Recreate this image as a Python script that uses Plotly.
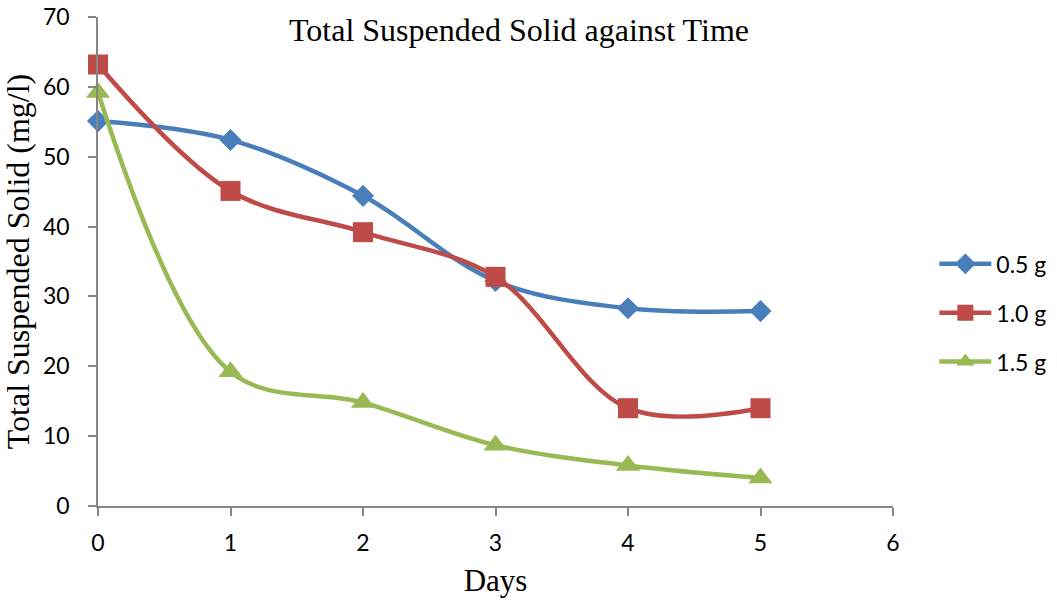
import plotly.graph_objects as go

days = [0, 1, 2, 3, 4, 5]
s05 = [55.1, 52.4, 44.4, 32.2, 28.3, 27.9]
s10 = [63.2, 45.1, 39.2, 32.8, 14.0, 14.0]
s15 = [59.2, 19.2, 14.8, 8.7, 5.8, 4.0]
names = ["0.5 g", "1.0 g", "1.5 g"]
colors = ["#4A7EBB", "#BE4B48", "#98B954"]
symbols = ["diamond", "square", "triangle-up"]
sizes = [17, 20, 21]

serif = "Liberation Serif, Times New Roman, serif"
sans = "Lato, Liberation Sans, sans-serif"

fig = go.Figure()
for i, (ys, nm) in enumerate(zip([s05, s10, s15], names)):
    fig.add_trace(go.Scatter(
        x=days, y=ys, name=nm, mode="lines+markers",
        line=dict(color=colors[i], width=4.5, shape="spline", smoothing=1.0),
        marker=dict(symbol=symbols[i], size=sizes[i], color=colors[i]),
        cliponaxis=False, legendgroup=nm,
    ))

axis_font = dict(family=sans, size=23, color="#000")
fig.update_layout(
    width=1057, height=603,
    margin=dict(l=98, r=164, t=17, b=97, autoexpand=False),
    plot_bgcolor="white", paper_bgcolor="white",
    showlegend=True,
    legend=dict(x=1.052, y=0.395, xanchor="left", yanchor="middle",
                font=dict(family=sans, size=23, color="#000"),
                tracegroupgap=16, itemwidth=52, bgcolor="rgba(0,0,0,0)"),
    xaxis=dict(range=[0, 6], dtick=1, showgrid=False, zeroline=False,
               showline=True, linecolor="#868686", linewidth=1.5,
               ticks="outside", ticklen=8, tickcolor="#868686", tickwidth=1.5,
               tickfont=axis_font, ticklabelstandoff=8,
               title=dict(text="Days", font=dict(family=serif, size=31, color="#000"), standoff=14)),
    yaxis=dict(range=[0, 70], dtick=10, showgrid=False, zeroline=False,
               showline=True, linecolor="#868686", linewidth=1.5,
               ticks="outside", ticklen=8, tickcolor="#868686", tickwidth=1.5,
               tickfont=axis_font, ticklabelstandoff=14,
               title=dict(text="Total Suspended Solid (mg/l)", font=dict(family=serif, size=32, color="#000"), standoff=6)),
    annotations=[dict(text="Total Suspended Solid against Time", x=0.53, y=1.0, xref="paper", yref="paper",
                      xanchor="center", yanchor="middle", yshift=-13,
                      showarrow=False, font=dict(family=serif, size=32, color="#000"))],
)
fig.write_html("out.html")
